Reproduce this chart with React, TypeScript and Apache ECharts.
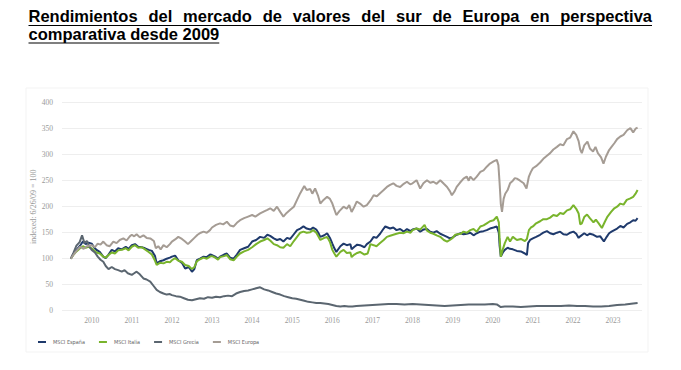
import React, { useEffect, useRef } from "react";
import * as echarts from "echarts";

const titleLine1Words = ["Rendimientos", "del", "mercado", "de", "valores", "del", "sur", "de", "Europa", "en", "perspectiva"];
const titleLine2 = "comparativa desde 2009";

const seriesNames = ["MSCI España", "MSCI Italia", "MSCI Grecia", "MSCI Europa"];
const yearTicks = [2010, 2011, 2012, 2013, 2014, 2015, 2016, 2017, 2018, 2019, 2020, 2021, 2022, 2023];
const yAxisName = "indexed: 6/26/09 = 100";

const espana: number[][] = [
  [2009.48, 100], [2009.55, 110], [2009.62, 117], [2009.71, 125], [2009.78, 133], [2009.85, 128], [2009.92, 131],
  [2010.0, 129], [2010.06, 122], [2010.12, 117], [2010.2, 113], [2010.29, 104], [2010.35, 101], [2010.42, 108],
  [2010.5, 117], [2010.58, 114], [2010.66, 120], [2010.75, 118], [2010.85, 123], [2010.92, 119],
  [2011.0, 126], [2011.08, 128], [2011.16, 123], [2011.25, 122], [2011.33, 120], [2011.42, 117], [2011.5, 115],
  [2011.58, 105], [2011.62, 91], [2011.7, 95], [2011.79, 97], [2011.87, 100], [2011.95, 102],
  [2012.0, 104], [2012.08, 106], [2012.16, 97], [2012.25, 92], [2012.33, 81], [2012.42, 84], [2012.5, 75],
  [2012.56, 80], [2012.62, 97], [2012.7, 100], [2012.79, 104], [2012.87, 103], [2012.95, 108],
  [2013.0, 107], [2013.08, 104], [2013.15, 100], [2013.2, 104], [2013.3, 108], [2013.37, 110], [2013.45, 102],
  [2013.54, 100], [2013.62, 108], [2013.7, 117], [2013.8, 120], [2013.9, 123],
  [2014.0, 133], [2014.1, 136], [2014.2, 142], [2014.3, 140], [2014.38, 146], [2014.45, 144], [2014.54, 139],
  [2014.62, 136], [2014.7, 138], [2014.78, 133], [2014.87, 140], [2014.95, 138],
  [2015.04, 147], [2015.12, 155], [2015.2, 158], [2015.28, 162], [2015.36, 158], [2015.45, 156], [2015.52, 160],
  [2015.6, 156], [2015.65, 150], [2015.7, 142], [2015.8, 145], [2015.87, 149], [2015.94, 140],
  [2016.0, 129], [2016.05, 120], [2016.1, 113], [2016.2, 124], [2016.28, 129], [2016.36, 126], [2016.45, 128],
  [2016.48, 118], [2016.55, 123], [2016.62, 127], [2016.69, 126], [2016.8, 122], [2016.86, 128], [2016.95, 133],
  [2017.03, 142], [2017.1, 140], [2017.19, 148], [2017.28, 158], [2017.32, 162], [2017.44, 158], [2017.52, 160],
  [2017.6, 155], [2017.69, 157], [2017.78, 152], [2017.86, 157], [2017.95, 153],
  [2018.0, 156], [2018.1, 158], [2018.19, 152], [2018.27, 156], [2018.36, 157], [2018.44, 152], [2018.52, 150],
  [2018.6, 153], [2018.69, 148], [2018.78, 145], [2018.86, 142], [2018.93, 139],
  [2019.0, 141], [2019.1, 146], [2019.2, 149], [2019.27, 147], [2019.35, 148], [2019.44, 150], [2019.52, 145],
  [2019.6, 149], [2019.69, 152], [2019.77, 153], [2019.85, 155], [2019.93, 158],
  [2020.02, 160], [2020.1, 162], [2020.15, 150], [2020.17, 125], [2020.2, 104], [2020.25, 112], [2020.3, 117],
  [2020.37, 121], [2020.43, 119], [2020.5, 118], [2020.6, 115], [2020.7, 114], [2020.8, 110], [2020.85, 107],
  [2020.88, 130], [2020.93, 136],
  [2021.0, 139], [2021.08, 142], [2021.18, 146], [2021.26, 150], [2021.35, 153], [2021.43, 149], [2021.51, 147],
  [2021.6, 150], [2021.68, 152], [2021.76, 147], [2021.85, 146], [2021.93, 150],
  [2022.01, 152], [2022.08, 148], [2022.14, 140], [2022.18, 143], [2022.28, 149], [2022.35, 145], [2022.42, 148],
  [2022.51, 146], [2022.6, 142], [2022.68, 143], [2022.77, 133], [2022.84, 142], [2022.9, 149], [2022.96, 152],
  [2023.03, 155], [2023.1, 158], [2023.18, 163], [2023.26, 160], [2023.35, 167], [2023.43, 170], [2023.5, 174],
  [2023.56, 173], [2023.61, 178],
];

const italia: number[][] = [
  [2009.48, 100], [2009.55, 108], [2009.62, 114], [2009.71, 120], [2009.78, 124], [2009.85, 121], [2009.92, 123],
  [2010.0, 120], [2010.06, 116], [2010.12, 112], [2010.2, 110], [2010.29, 104], [2010.35, 102], [2010.42, 107],
  [2010.5, 112], [2010.58, 110], [2010.66, 116], [2010.75, 117], [2010.85, 120], [2010.92, 116],
  [2011.0, 123], [2011.08, 126], [2011.16, 121], [2011.25, 122], [2011.33, 118], [2011.42, 113], [2011.5, 108],
  [2011.58, 96], [2011.62, 88], [2011.7, 92], [2011.79, 91], [2011.87, 94], [2011.95, 93],
  [2012.0, 97], [2012.08, 101], [2012.16, 96], [2012.25, 94], [2012.33, 88], [2012.42, 86], [2012.5, 80],
  [2012.56, 84], [2012.62, 95], [2012.7, 99], [2012.79, 102], [2012.87, 100], [2012.95, 104],
  [2013.0, 105], [2013.08, 102], [2013.15, 98], [2013.2, 103], [2013.3, 105], [2013.37, 107], [2013.45, 99],
  [2013.54, 97], [2013.62, 104], [2013.7, 110], [2013.8, 114], [2013.9, 117],
  [2014.0, 122], [2014.1, 128], [2014.2, 133], [2014.3, 136], [2014.38, 139], [2014.45, 135], [2014.54, 128],
  [2014.62, 126], [2014.7, 122], [2014.78, 121], [2014.87, 128], [2014.95, 124],
  [2015.04, 134], [2015.12, 142], [2015.2, 150], [2015.28, 152], [2015.36, 150], [2015.45, 151], [2015.52, 155],
  [2015.6, 150], [2015.65, 143], [2015.7, 136], [2015.8, 140], [2015.87, 142], [2015.94, 132],
  [2016.0, 117], [2016.05, 110], [2016.1, 104], [2016.2, 113], [2016.28, 117], [2016.36, 111], [2016.45, 112],
  [2016.48, 103], [2016.55, 108], [2016.62, 111], [2016.69, 113], [2016.8, 108], [2016.88, 110], [2016.95, 128],
  [2017.03, 126], [2017.1, 124], [2017.19, 130], [2017.28, 136], [2017.36, 142], [2017.44, 144], [2017.52, 146],
  [2017.6, 148], [2017.69, 150], [2017.78, 149], [2017.86, 152], [2017.95, 150],
  [2018.0, 155], [2018.1, 158], [2018.19, 156], [2018.3, 165], [2018.36, 154], [2018.44, 150], [2018.52, 148],
  [2018.6, 145], [2018.69, 142], [2018.78, 136], [2018.86, 133], [2018.93, 136],
  [2019.0, 140], [2019.06, 146], [2019.2, 148], [2019.27, 152], [2019.35, 150], [2019.44, 155], [2019.52, 157],
  [2019.6, 152], [2019.69, 162], [2019.77, 164], [2019.85, 168], [2019.93, 172],
  [2020.02, 174], [2020.1, 181], [2020.15, 170], [2020.17, 140], [2020.2, 104], [2020.25, 118], [2020.3, 130],
  [2020.37, 142], [2020.43, 133], [2020.5, 142], [2020.6, 136], [2020.7, 138], [2020.8, 134], [2020.85, 138],
  [2020.9, 155], [2020.95, 160],
  [2021.0, 162], [2021.08, 168], [2021.18, 172], [2021.26, 176], [2021.35, 176], [2021.43, 179], [2021.51, 184],
  [2021.6, 182], [2021.68, 188], [2021.76, 186], [2021.85, 193], [2021.93, 195],
  [2022.01, 203], [2022.08, 196], [2022.14, 187], [2022.18, 166], [2022.22, 168], [2022.28, 180], [2022.35, 185],
  [2022.42, 178], [2022.51, 170], [2022.57, 175], [2022.64, 168], [2022.72, 159], [2022.8, 172], [2022.86, 181],
  [2022.95, 190], [2023.03, 197], [2023.1, 200], [2023.18, 206], [2023.26, 204], [2023.34, 213], [2023.43, 216],
  [2023.5, 219], [2023.56, 225], [2023.61, 232],
];

const grecia: number[][] = [
  [2009.48, 100], [2009.55, 112], [2009.62, 125], [2009.7, 132], [2009.76, 145], [2009.82, 130], [2009.88, 134],
  [2009.95, 122], [2010.0, 117], [2010.08, 112], [2010.15, 104], [2010.22, 98], [2010.29, 94], [2010.35, 86],
  [2010.42, 80], [2010.5, 84], [2010.58, 80], [2010.66, 78], [2010.75, 75], [2010.82, 78], [2010.9, 72],
  [2011.0, 69], [2011.06, 72], [2011.12, 75], [2011.2, 70], [2011.29, 62], [2011.37, 60], [2011.46, 56],
  [2011.54, 48], [2011.62, 40], [2011.7, 36], [2011.79, 33], [2011.87, 31], [2011.95, 32],
  [2012.0, 30], [2012.1, 28], [2012.2, 27], [2012.3, 24], [2012.4, 21], [2012.5, 20], [2012.6, 22],
  [2012.7, 24], [2012.8, 23], [2012.9, 26], [2013.0, 25], [2013.1, 27], [2013.2, 26], [2013.3, 28],
  [2013.4, 29], [2013.5, 28], [2013.6, 33], [2013.7, 36], [2013.8, 38], [2013.9, 39],
  [2014.0, 41], [2014.1, 43], [2014.2, 45], [2014.3, 41], [2014.4, 39], [2014.5, 36], [2014.6, 33],
  [2014.7, 31], [2014.8, 28], [2014.9, 26], [2015.0, 24], [2015.1, 23], [2015.2, 21], [2015.3, 19],
  [2015.4, 17], [2015.5, 16], [2015.6, 15], [2015.7, 15], [2015.8, 14], [2015.9, 13],
  [2016.0, 11], [2016.1, 9], [2016.2, 8], [2016.3, 9], [2016.4, 8], [2016.5, 8], [2016.6, 9], [2016.8, 10],
  [2017.0, 11], [2017.2, 12], [2017.4, 13], [2017.6, 13], [2017.8, 12], [2018.0, 13], [2018.2, 12],
  [2018.4, 11], [2018.6, 10], [2018.8, 9], [2019.0, 10], [2019.2, 11], [2019.4, 12], [2019.6, 12],
  [2019.8, 12], [2020.0, 13], [2020.1, 12], [2020.2, 7], [2020.3, 8], [2020.5, 8], [2020.7, 7], [2020.9, 8],
  [2021.1, 9], [2021.3, 9], [2021.5, 9], [2021.7, 9], [2021.9, 10], [2022.1, 9], [2022.3, 9], [2022.5, 8],
  [2022.7, 8], [2022.9, 9], [2023.1, 11], [2023.3, 12], [2023.5, 14], [2023.61, 15],
];

const europa: number[][] = [
  [2009.48, 100], [2009.55, 108], [2009.62, 115], [2009.71, 123], [2009.8, 119], [2009.88, 124],
  [2010.0, 126], [2010.08, 122], [2010.15, 129], [2010.22, 127], [2010.29, 133], [2010.37, 126], [2010.45, 124],
  [2010.54, 133], [2010.62, 130], [2010.7, 136], [2010.79, 139], [2010.87, 135], [2010.95, 143],
  [2011.0, 146], [2011.06, 143], [2011.12, 147], [2011.2, 141], [2011.29, 145], [2011.37, 140], [2011.46, 139],
  [2011.55, 134], [2011.6, 120], [2011.66, 124], [2011.72, 118], [2011.79, 126], [2011.87, 122], [2011.95, 128],
  [2012.0, 133], [2012.08, 137], [2012.16, 142], [2012.25, 138], [2012.33, 133], [2012.4, 128], [2012.48, 134],
  [2012.56, 140], [2012.64, 146], [2012.72, 150], [2012.79, 152], [2012.87, 150], [2012.95, 155],
  [2013.0, 160], [2013.1, 165], [2013.2, 168], [2013.28, 166], [2013.37, 171], [2013.45, 164], [2013.54, 162],
  [2013.62, 169], [2013.7, 174], [2013.8, 178], [2013.9, 181],
  [2014.0, 184], [2014.08, 181], [2014.2, 187], [2014.3, 191], [2014.38, 194], [2014.45, 197], [2014.54, 192],
  [2014.62, 200], [2014.7, 190], [2014.78, 181], [2014.86, 188], [2014.95, 194],
  [2015.04, 200], [2015.12, 213], [2015.2, 226], [2015.3, 240], [2015.36, 232], [2015.45, 234], [2015.5, 225],
  [2015.57, 235], [2015.64, 222], [2015.7, 206], [2015.78, 213], [2015.87, 219], [2015.94, 215],
  [2016.0, 206], [2016.05, 195], [2016.1, 184], [2016.18, 192], [2016.28, 200], [2016.36, 196], [2016.42, 203],
  [2016.48, 190], [2016.55, 200], [2016.61, 210], [2016.69, 206], [2016.78, 200], [2016.86, 203], [2016.95, 212],
  [2017.03, 222], [2017.11, 220], [2017.19, 226], [2017.28, 232], [2017.36, 238], [2017.44, 242], [2017.52, 245],
  [2017.6, 240], [2017.69, 238], [2017.78, 244], [2017.86, 248], [2017.94, 243],
  [2018.0, 245], [2018.1, 251], [2018.19, 235], [2018.27, 245], [2018.36, 251], [2018.44, 246], [2018.52, 248],
  [2018.6, 244], [2018.69, 251], [2018.78, 244], [2018.86, 238], [2018.93, 230], [2018.98, 222],
  [2019.05, 230], [2019.1, 238], [2019.18, 246], [2019.27, 254], [2019.35, 258], [2019.4, 250], [2019.44, 258],
  [2019.52, 251], [2019.6, 258], [2019.69, 267], [2019.77, 270], [2019.85, 277], [2019.93, 283],
  [2020.02, 287], [2020.1, 290], [2020.14, 280], [2020.17, 245], [2020.2, 205], [2020.23, 190], [2020.27, 215],
  [2020.31, 225], [2020.37, 232], [2020.43, 245], [2020.5, 250], [2020.55, 255], [2020.6, 254], [2020.68, 250],
  [2020.77, 245], [2020.84, 235], [2020.9, 258], [2020.95, 267],
  [2021.0, 274], [2021.08, 278], [2021.18, 285], [2021.26, 292], [2021.35, 298], [2021.43, 303], [2021.51, 310],
  [2021.6, 315], [2021.68, 320], [2021.76, 318], [2021.85, 330], [2021.93, 333],
  [2022.01, 345], [2022.08, 338], [2022.14, 326], [2022.18, 310], [2022.22, 303], [2022.28, 318], [2022.36, 325],
  [2022.42, 312], [2022.5, 306], [2022.56, 315], [2022.62, 303], [2022.7, 295], [2022.76, 283], [2022.82, 296],
  [2022.9, 309], [2022.96, 315], [2023.03, 322], [2023.1, 330], [2023.18, 335], [2023.26, 338], [2023.35, 347],
  [2023.43, 351], [2023.5, 343], [2023.56, 350], [2023.61, 352],
];

const seriesData = [espana, italia, grecia, europa];
const seriesColors = ["#1f3a6c", "#79b42c", "#5b6670", "#a59c94"];

const TITLE_FONT_SIZE = 16.5;
const TITLE_FAMILY = "'Liberation Sans', Arial, sans-serif";
const TITLE_LEFT = 28.5;
const TITLE_RIGHT = 652;

function measure(text: string): number {
  const c = document.createElement("canvas").getContext("2d");
  if (!c) return text.length * TITLE_FONT_SIZE * 0.55;
  c.font = `bold ${TITLE_FONT_SIZE}px ${TITLE_FAMILY}`;
  return c.measureText(text).width;
}

export default function App() {
  const ref = useRef<HTMLDivElement>(null);

  useEffect(() => {
    if (!ref.current) return;
    const chart = echarts.init(ref.current, undefined, { renderer: "svg" });

    const titleFont = {
      fontFamily: TITLE_FAMILY,
      fontWeight: "bold" as const,
      fontSize: TITLE_FONT_SIZE,
      fill: "#000",
    };

    const widths = titleLine1Words.map(measure);
    const totalW = widths.reduce((a, b) => a + b, 0);
    const gap = (TITLE_RIGHT - TITLE_LEFT - totalW) / (titleLine1Words.length - 1);
    const xs: number[] = [];
    let cx = TITLE_LEFT;
    widths.forEach((w) => {
      xs.push(cx);
      cx += w + gap;
    });
    const line2W = measure(titleLine2);

    const graphics: any[] = [
      {
        type: "rect",
        shape: { x: 26, y: 88, width: 622, height: 264 },
        style: { fill: "none", stroke: "#f3f3f3", lineWidth: 1 },
        silent: true,
      },
      ...titleLine1Words.map((w, i) => ({
        type: "text",
        x: xs[i],
        y: 24.5,
        style: { ...titleFont, text: w, textAlign: "left", verticalAlign: "bottom" },
      })),
      {
        type: "text",
        x: TITLE_LEFT,
        y: 42,
        style: { ...titleFont, text: titleLine2, textAlign: "left", verticalAlign: "bottom" },
      },
      {
        type: "line",
        shape: { x1: TITLE_LEFT, y1: 25.5, x2: TITLE_RIGHT, y2: 25.5 },
        style: { stroke: "#000", lineWidth: 1.2 },
      },
      {
        type: "line",
        shape: { x1: TITLE_LEFT, y1: 43, x2: TITLE_LEFT + line2W, y2: 43 },
        style: { stroke: "#000", lineWidth: 1.2 },
      },
    ];

    chart.setOption({
      animation: false,
      backgroundColor: "#ffffff",
      graphic: graphics,
      legend: {
        left: 33,
        top: 334,
        itemWidth: 8,
        itemHeight: 2,
        itemGap: 14,
        icon: "rect",
        data: seriesNames,
        textStyle: {
          fontSize: 5.5,
          color: "#666",
          fontFamily: "'Liberation Sans Narrow', 'DejaVu Sans Condensed', 'Arial Narrow', sans-serif",
          padding: [0, 0, 0, 2],
        },
      },
      grid: { left: 62, top: 102.7, width: 580, height: 208 },
      xAxis: {
        type: "value",
        min: 2009.26,
        max: 2023.72,
        axisLine: { show: false },
        axisTick: { show: false },
        splitLine: { show: false },
        axisLabel: {
          customValues: yearTicks,
          formatter: (v: number) => String(Math.round(v)),
          color: "#999",
          fontSize: 7.5,
          fontFamily: "'Liberation Serif', 'Times New Roman', serif",
          margin: 6,
        },
      },
      yAxis: {
        type: "value",
        min: 0,
        max: 400,
        interval: 50,
        name: yAxisName,
        nameLocation: "middle",
        nameGap: 25,
        nameRotate: 90,
        nameMoveOverlap: false,
        nameTextStyle: {
          color: "#999",
          fontSize: 8,
          fontFamily: "'Liberation Serif', 'Times New Roman', serif",
        },
        axisLine: { show: false },
        axisTick: { show: false },
        splitLine: { lineStyle: { color: "#eeeeee", width: 1 } },
        axisLabel: {
          color: "#999",
          fontSize: 7.5,
          fontFamily: "'Liberation Serif', 'Times New Roman', serif",
          margin: 9,
        },
      },
      series: seriesNames.map((name, i) => ({
        name,
        type: "line",
        data: seriesData[i],
        symbol: "none",
        color: seriesColors[i],
        lineStyle: { width: 2, color: seriesColors[i] },
        z: 2,
      })),
    });

    return () => chart.dispose();
  }, []);

  return <div ref={ref} style={{ width: 681, height: 370, margin: -8 }} />;
}
